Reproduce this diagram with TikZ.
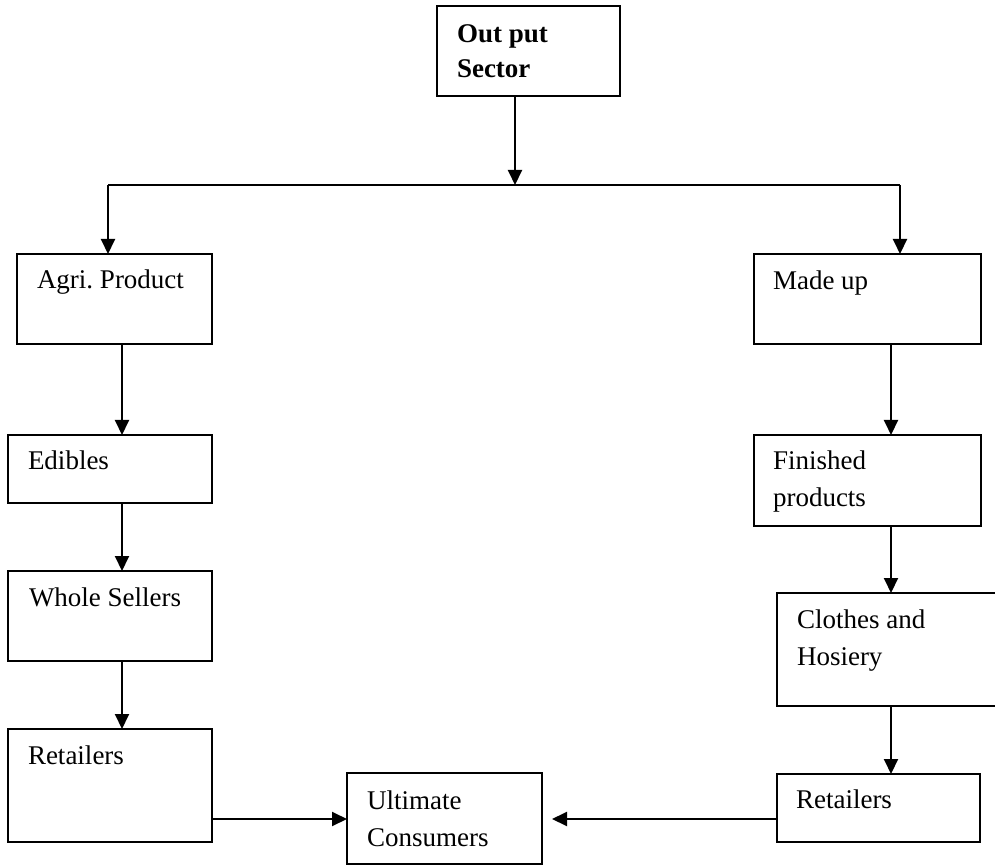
\documentclass[tikz,border=0pt]{standalone}
\usepackage{fontspec}
\setmainfont{Liberation Serif}
\usetikzlibrary{arrows.meta}
\frenchspacing
\begin{document}
\begin{tikzpicture}[x=0.5pt,y=-0.5pt,
  box/.style={draw, line width=1pt, inner sep=0pt, outer sep=0pt, anchor=north west},
  txt/.style={anchor=base west, inner sep=0pt, outer sep=0pt, font=\fontsize{13.5}{18.5}\selectfont},
  conn/.style={line width=1pt},
  arr/.style={conn, -{Triangle[length=7.5pt,width=7pt]}}]
\clip (0,0) rectangle (995,865);
% boxes
\node[box, minimum width=91.5pt, minimum height=45pt] (os) at (437,6) {};
\node[box, minimum width=97.5pt, minimum height=45pt] (agri) at (17,254) {};
\node[box, minimum width=113.5pt, minimum height=45pt] (made) at (754,254) {};
\node[box, minimum width=102pt, minimum height=34pt] (edib) at (8,435) {};
\node[box, minimum width=102pt, minimum height=45pt] (whole) at (8,571) {};
\node[box, minimum width=102pt, minimum height=56.5pt] (retl) at (8,729) {};
\node[box, minimum width=97.5pt, minimum height=45.5pt] (ult) at (347,773) {};
\node[box, minimum width=113.5pt, minimum height=45.5pt] (fin) at (754,435) {};
\node[box, minimum width=116.5pt, minimum height=56.5pt] (cloth) at (777,593) {};
\node[box, minimum width=101.5pt, minimum height=34pt] (retr) at (777,774) {};
% texts
\node[txt, font=\fontsize{13.5}{17.5}\selectfont\bfseries] (os-t) at (457,43) {\begin{tabular}[t]{@{}l@{}}Out put\\Sector\end{tabular}};
\node[txt] (agri-t) at (37,289) {Agri. Product};
\node[txt] (made-t) at (773,290) {Made up};
\node[txt] (edib-t) at (28,470) {Edibles};
\node[txt] (whole-t) at (29,606) {Whole Sellers};
\node[txt] (retl-t) at (28,764) {Retailers};
\node[txt] (ult-t) at (367,809) {\begin{tabular}[t]{@{}l@{}}Ultimate\\Consumers\end{tabular}};
\node[txt] (fin-t) at (773,470) {\begin{tabular}[t]{@{}l@{}}Finished\\products\end{tabular}};
\node[txt] (cloth-t) at (797,628) {\begin{tabular}[t]{@{}l@{}}Clothes and\\Hosiery\end{tabular}};
\node[txt] (retr-t) at (796,808) {Retailers};
% connectors
\coordinate (j) at (515,185);
\coordinate (jl) at (108,185);
\coordinate (jr) at (900,185);
\coordinate (cl) at (122,0);
\coordinate (cr) at (891,0);
\coordinate (hy) at (0,819);
\coordinate (ue) at (552,819);
\draw[arr] (j |- os.south) -- (j);
\draw[conn] (jl) -- (jr);
\draw[arr] (jl) -- (jl |- agri.north);
\draw[arr] (jr) -- (jr |- made.north);
\draw[arr] (cl |- agri.south) -- (cl |- edib.north);
\draw[arr] (cl |- edib.south) -- (cl |- whole.north);
\draw[arr] (cl |- whole.south) -- (cl |- retl.north);
\draw[arr] (cr |- made.south) -- (cr |- fin.north);
\draw[arr] (cr |- fin.south) -- (cr |- cloth.north);
\draw[arr] (cr |- cloth.south) -- (cr |- retr.north);
\draw[arr] (retl.east |- hy) -- (ult.west |- hy);
\draw[arr] (retr.west |- hy) -- (ue);
\end{tikzpicture}
\end{document}
